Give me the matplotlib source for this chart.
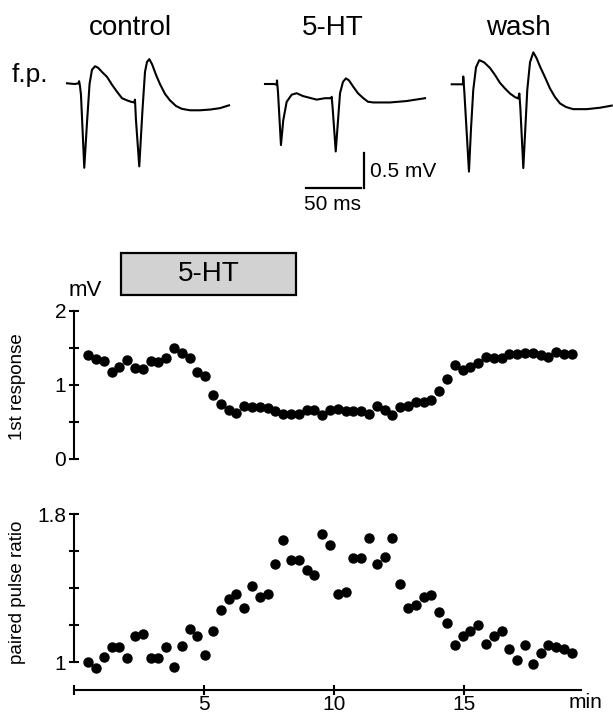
import numpy as np
import matplotlib
matplotlib.use('Agg')
import matplotlib.pyplot as plt
import matplotlib.transforms as mtransforms
from matplotlib.patches import Rectangle

plt.rcParams['font.family'] = ['Liberation Sans', 'DejaVu Sans']

# ---- field potential traces (ms, mV relative to baseline) ----
ctrl_t = [0, 7, 10.5, 11, 11.8, 12.7, 15.7, 18.2, 20.5, 22.7, 25.5, 28.2, 31.8, 36.4, 40.9,
          45.5, 50, 54.5, 58.2, 60.9, 61.8, 62.7, 65.7, 68.6, 70.9, 72.7, 74.8, 77.3, 80.9,
          84.5, 89.1, 93.6, 99.1, 104.5, 111.8, 120.9, 130, 139.1, 147.3]
ctrl_v = [0, -0.01, 0, 0.03, -0.04, -0.16, -1.19, -0.55, -0.01, 0.19, 0.24, 0.22, 0.16, 0.09,
          -0.02, -0.12, -0.21, -0.24, -0.26, -0.27, -0.23, -0.52, -1.17, -0.38, 0.16, 0.30,
          0.34, 0.27, 0.12, -0.01, -0.15, -0.24, -0.32, -0.36, -0.38, -0.38, -0.37, -0.35, -0.31]

ht_t = [0, 8.2, 10.6, 10.9, 11.8, 14.5, 16.6, 19.7, 24.3, 28.8, 34.5, 47, 54.5, 60, 60.6,
        61.5, 64.3, 68.2, 70.9, 73.6, 76.4, 80.3, 84.5, 89.4, 93.6, 98.5, 113.6, 128.8, 145.5]
ht_v = [0, 0, -0.01, 0.05, -0.11, -0.86, -0.51, -0.25, -0.15, -0.13, -0.17, -0.22, -0.20,
        -0.20, -0.18, -0.34, -0.95, -0.13, 0.03, 0.08, 0.05, -0.04, -0.13, -0.20, -0.25,
        -0.26, -0.26, -0.24, -0.20]

wash_t = [0, 7.5, 10.3, 10.5, 11.5, 15.7, 17.5, 19.6, 22.1, 25.1, 29.4, 34.8, 39.4, 43.9,
          48.5, 53, 57.5, 60.5, 61.5, 62.4, 65.1, 67.1, 68.7, 71.2, 74.2, 77.1, 80.3, 84.8,
          89.4, 93.9, 98.5, 103.9, 110.5, 122.7, 134.8, 145.5]
wash_v = [0, 0, 0, 0.11, -0.11, -1.23, -0.64, -0.08, 0.24, 0.34, 0.31, 0.23, 0.13, 0.02,
          -0.06, -0.13, -0.18, -0.20, -0.13, -0.33, -1.18, -0.57, -0.08, 0.31, 0.45, 0.37,
          0.25, 0.10, -0.06, -0.18, -0.27, -0.32, -0.35, -0.35, -0.33, -0.30]

trace_titles = ['control', '5-HT', 'wash']
scale_ms = 50
scale_mV = 0.5

# ---- time course (one point every 0.3 min) ----
times = 0.55 + 0.3 * np.arange(63)
first_resp = [1.40, 1.35, 1.33, 1.17, 1.24, 1.34, 1.23, 1.22, 1.32, 1.31, 1.37, 1.50, 1.43,
              1.36, 1.17, 1.12, 0.86, 0.74, 0.66, 0.62, 0.71, 0.70, 0.70, 0.69, 0.65, 0.61,
              0.61, 0.61, 0.66, 0.66, 0.59, 0.66, 0.68, 0.65, 0.65, 0.65, 0.61, 0.71, 0.66,
              0.60, 0.70, 0.72, 0.77, 0.77, 0.80, 0.92, 1.08, 1.27, 1.20, 1.25, 1.30, 1.38,
              1.36, 1.36, 1.42, 1.42, 1.43, 1.43, 1.41, 1.38, 1.44, 1.42, 1.42]
ppr = [1.00, 0.97, 1.03, 1.08, 1.08, 1.02, 1.14, 1.15, 1.02, 1.02, 1.08, 0.975, 1.085, 1.18,
       1.14, 1.04, 1.17, 1.28, 1.34, 1.37, 1.29, 1.41, 1.35, 1.37, 1.53, 1.66, 1.55, 1.55,
       1.50, 1.47, 1.69, 1.63, 1.37, 1.38, 1.56, 1.56, 1.67, 1.53, 1.57, 1.67, 1.42, 1.29,
       1.31, 1.35, 1.36, 1.27, 1.21, 1.09, 1.14, 1.17, 1.20, 1.10, 1.14, 1.17, 1.07, 1.01,
       1.09, 0.99, 1.05, 1.09, 1.08, 1.07, 1.05]
drug_start, drug_end = 1.8, 8.55

W, H = 613, 715


def px_axes(fig, left, top, width, height):
    return fig.add_axes([left / W, 1 - (top + height) / H, width / W, height / H])


def fig_text(px, py, s, **kw):
    fig.text(px / W, 1 - py / H, s, ha='center', va='center', **kw)


fig = plt.figure(figsize=(W / 100, H / 100), dpi=100)

# traces: 1.1 px per ms, 71 px per mV
MS_PX, MV_PX = 1.1, 71
trace_pos = [(67, 83.3), (265, 84.0), (451.7, 84.3)]
title_x = [130, 333, 518]
trace_axes = []
for (t, v), (left, base), name, tx in zip([(ctrl_t, ctrl_v), (ht_t, ht_v), (wash_t, wash_v)],
                                          trace_pos, trace_titles, title_x):
    ax = px_axes(fig, left, base - 0.6 * MV_PX, 150 * MS_PX, 2.2 * MV_PX)
    ax.set_xlim(0, 150)
    ax.set_ylim(-1.6, 0.6)
    ax.axis('off')
    ax.plot(t, v, color='k', lw=1.5, clip_on=False)
    fig_text(tx, 28, name, fontsize=20)
    trace_axes.append(ax)

# scale bars in the 5-HT panel
sax = trace_axes[1]
sax.plot([37.3, 37.3 + scale_ms], [-1.46, -1.46], color='k', lw=1.6, clip_on=False)
sax.plot([90, 90], [-1.47, -1.47 + scale_mV], color='k', lw=1.6, clip_on=False)
fig.text(370 / W, 1 - 171.7 / H, '%.1f mV' % scale_mV, ha='left', va='center', fontsize=15)
fig.text(304 / W, 1 - 205 / H, '%d ms' % scale_ms, ha='left', va='center', fontsize=15)
fig_text(30, 75, 'f.p.', fontsize=19)

# ---- 1st response ----
ax1 = px_axes(fig, 74, 311, 507, 148)
ax1.plot(times, first_resp, 'o', color='k', ms=6.5, clip_on=False)
ax1.set_xlim(0, 19.5)
ax1.set_ylim(0, 2)
for s in ['top', 'right', 'bottom']:
    ax1.spines[s].set_visible(False)
ax1.spines['left'].set_linewidth(1.5)
ax1.set_xticks([])
ax1.set_yticks([0, 0.5, 1, 1.5, 2])
ax1.set_yticklabels(['0', '', '1', '', '2'])
ax1.tick_params(axis='y', direction='inout', length=7, width=1.5, labelsize=15, pad=2)

# drug bar
trans = mtransforms.blended_transform_factory(ax1.transData, fig.transFigure)
ax1.add_patch(Rectangle((drug_start, 1 - 295 / H), drug_end - drug_start, 42.3 / H,
                        transform=trans, facecolor='#d2d2d2', edgecolor='k', lw=1.6,
                        clip_on=False))
ax1.text((drug_start + drug_end) / 2, 1 - 274 / H, '5-HT', transform=trans,
         ha='center', va='center', fontsize=20)
fig_text(85, 290, 'mV', fontsize=16)
fig_text(18, 387, '1st response', fontsize=13.5, rotation=90)

# ---- paired pulse ratio ----
ax2 = px_axes(fig, 74, 504.75, 507, 690 - 504.75)
ax2.plot(times, ppr, 'o', color='k', ms=6.5, clip_on=False)
ax2.set_xlim(0, 19.5)
ax2.set_ylim(0.849, 1.85)
for s in ['top', 'right']:
    ax2.spines[s].set_visible(False)
ax2.spines['left'].set_bounds(1, 1.8)
ax2.spines['left'].set_linewidth(1.5)
ax2.spines['bottom'].set_linewidth(1.5)
ax2.set_yticks([1, 1.2, 1.4, 1.6, 1.8])
ax2.set_yticklabels(['1', '', '', '', '1.8'])
ax2.set_xticks([0, 5, 10, 15])
ax2.set_xticklabels(['', '5', '10', '15'])
ax2.tick_params(direction='inout', length=7, width=1.5, labelsize=15, pad=2)
ax2.tick_params(axis='x', labelsize=15, pad=0)
fig_text(18, 592, 'paired pulse ratio', fontsize=13.5, rotation=90)
fig_text(585, 703, 'min', fontsize=15)

fig.savefig('out.png', dpi=100)
